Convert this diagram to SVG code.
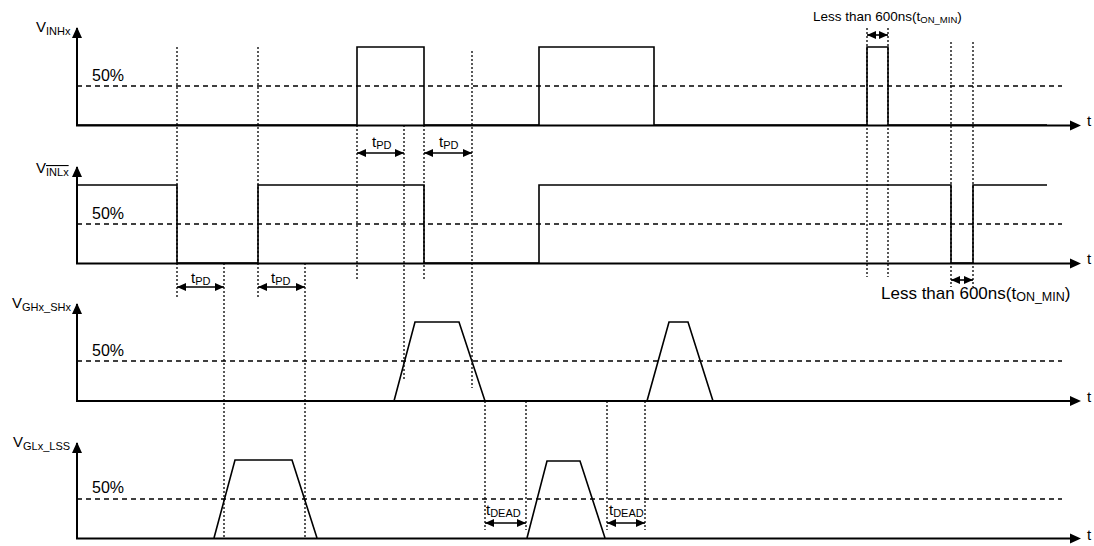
<svg xmlns="http://www.w3.org/2000/svg" width="1094" height="546" viewBox="0 0 1094 546">
<style>
text{font-family:"Liberation Sans",Arial,sans-serif;fill:#000}
.lbl{font-size:15px}
.sub{font-size:11px}
.pct{font-size:16px}
.axis{stroke:#000;stroke-width:2;fill:none}
.sig{stroke:#000;stroke-width:1.6;fill:none;stroke-linejoin:miter}
.dash{stroke:#000;stroke-width:1.3;stroke-dasharray:5 4;fill:none}
.dot{stroke:#000;stroke-width:1.3;stroke-dasharray:2 2;fill:none}
.dim{stroke:#000;stroke-width:1.6;fill:none;marker-start:url(#ah);marker-end:url(#ah)}
</style>
<defs>
<marker id="ah" viewBox="0 0 10 10" refX="10" refY="5" markerWidth="9" markerHeight="8" markerUnits="userSpaceOnUse" orient="auto-start-reverse" preserveAspectRatio="none"><path d="M0,0 L10,5 L0,10 Z" fill="#000"/></marker>
</defs>
<rect width="1094" height="546" fill="#fff"/>

<g id="panel-inh">
<polyline class="axis" points="77,28 77,125.5 1072,125.5"/>
<path d="M72,38 L77,27 L82,38 Z"/>
<path d="M1070,120.5 L1081,125.5 L1070,130.5 Z"/>
<line class="dash" x1="77" y1="86" x2="1062" y2="86"/>
<polyline class="sig" points="77,125 357,125 357,47 424,47 424,125 539,125 539,47 654,47 654,125 867,125 867,47 888,47 888,125 1047,125"/>
<text class="lbl" x="36" y="32">V<tspan class="sub" dy="3">INHx</tspan></text>
<text class="pct" x="92" y="81">50%</text>
<text class="lbl" x="1087" y="126">t</text>
</g>

<g id="panel-inl">
<polyline class="axis" points="77,167 77,263.5 1072,263.5"/>
<path d="M72,177 L77,166 L82,177 Z"/>
<path d="M1070,258.5 L1081,263.5 L1070,268.5 Z"/>
<line class="dash" x1="77" y1="224" x2="1062" y2="224"/>
<polyline class="sig" points="77,185 177,185 177,263 258,263 258,185 424,185 424,263 539,263 539,185 951,185 951,263 973,263 973,185 1047,185"/>
<text class="lbl" x="36" y="173">V<tspan class="sub" dy="3" text-decoration="overline">INLx</tspan></text>
<text class="pct" x="92" y="219">50%</text>
<text class="lbl" x="1087" y="264">t</text>
</g>

<g id="panel-gh">
<polyline class="axis" points="77,304 77,401 1072,401"/>
<path d="M72,314 L77,303 L82,314 Z"/>
<path d="M1070,396 L1081,401 L1070,406 Z"/>
<line class="dash" x1="77" y1="361" x2="1062" y2="361"/>
<polyline class="sig" points="394,401 415,322 459,322 485,401"/>
<polyline class="sig" points="647,401 669,322 688,322 713,401"/>
<text class="lbl" x="12" y="308">V<tspan class="sub" dy="3">GHx_SHx</tspan></text>
<text class="pct" x="92" y="356">50%</text>
<text class="lbl" x="1087" y="402">t</text>
</g>

<g id="panel-gl">
<polyline class="axis" points="77,443 77,538.5 1072,538.5"/>
<path d="M72,453 L77,442 L82,453 Z"/>
<path d="M1070,533.5 L1081,538.5 L1070,543.5 Z"/>
<line class="dash" x1="77" y1="499" x2="1062" y2="499"/>
<polyline class="sig" points="214,538 235,460 292,460 317,538"/>
<polyline class="sig" points="527,538 547,461 580,461 605,538"/>
<text class="lbl" x="13" y="447">V<tspan class="sub" dy="3">GLx_LSS</tspan></text>
<text class="pct" x="92" y="493">50%</text>
<text class="lbl" x="1087" y="540">t</text>
</g>

<g id="connectors">
<line class="dot" x1="177" y1="47" x2="177" y2="297"/>
<line class="dot" x1="258" y1="47" x2="258" y2="297"/>
<line class="dot" x1="224" y1="263" x2="224" y2="537"/>
<line class="dot" x1="305" y1="263" x2="305" y2="537"/>
<line class="dot" x1="357" y1="125" x2="357" y2="280"/>
<line class="dot" x1="404" y1="125" x2="404" y2="380"/>
<line class="dot" x1="424" y1="125" x2="424" y2="280"/>
<line class="dot" x1="472" y1="51" x2="472" y2="388"/>
<line class="dot" x1="485" y1="401" x2="485" y2="530"/>
<line class="dot" x1="526" y1="401" x2="526" y2="530"/>
<line class="dot" x1="607" y1="401" x2="607" y2="530"/>
<line class="dot" x1="645" y1="401" x2="645" y2="530"/>
<line class="dot" x1="867" y1="28" x2="867" y2="277"/>
<line class="dot" x1="888" y1="28" x2="888" y2="277"/>
<line class="dot" x1="951" y1="42" x2="951" y2="287"/>
<line class="dot" x1="973" y1="42" x2="973" y2="287"/>
<line class="dim" x1="357" y1="153" x2="404" y2="153"/>
<line class="dim" x1="424" y1="153" x2="472" y2="153"/>
<line class="dim" x1="177" y1="287" x2="224" y2="287"/>
<line class="dim" x1="258" y1="287" x2="305" y2="287"/>
<line class="dim" x1="485" y1="523" x2="526" y2="523"/>
<line class="dim" x1="607" y1="523" x2="645" y2="523"/>
<line class="dim" x1="867" y1="35" x2="888" y2="35"/>
<line class="dim" x1="951" y1="280" x2="973" y2="280"/>
</g>

<g id="labels">
<text class="lbl" x="372" y="147">t<tspan class="sub" dy="2">PD</tspan></text>
<text class="lbl" x="439" y="147">t<tspan class="sub" dy="2">PD</tspan></text>
<text class="lbl" x="191" y="283">t<tspan class="sub" dy="2">PD</tspan></text>
<text class="lbl" x="271" y="283">t<tspan class="sub" dy="2">PD</tspan></text>
<text class="lbl" x="486" y="515">t<tspan class="sub" dy="2">DEAD</tspan></text>
<text class="lbl" x="609" y="515">t<tspan class="sub" dy="2">DEAD</tspan></text>
<text class="lbl" x="813" y="21" style="font-size:13.5px">Less than 600ns(t<tspan dy="2" style="font-size:9.5px">ON_MIN</tspan><tspan dy="-2">)</tspan></text>
<text class="lbl" x="881" y="299" style="font-size:17px">Less than 600ns(t<tspan dy="2" style="font-size:12.5px">ON_MIN</tspan><tspan dy="-2">)</tspan></text>
</g>
</svg>
